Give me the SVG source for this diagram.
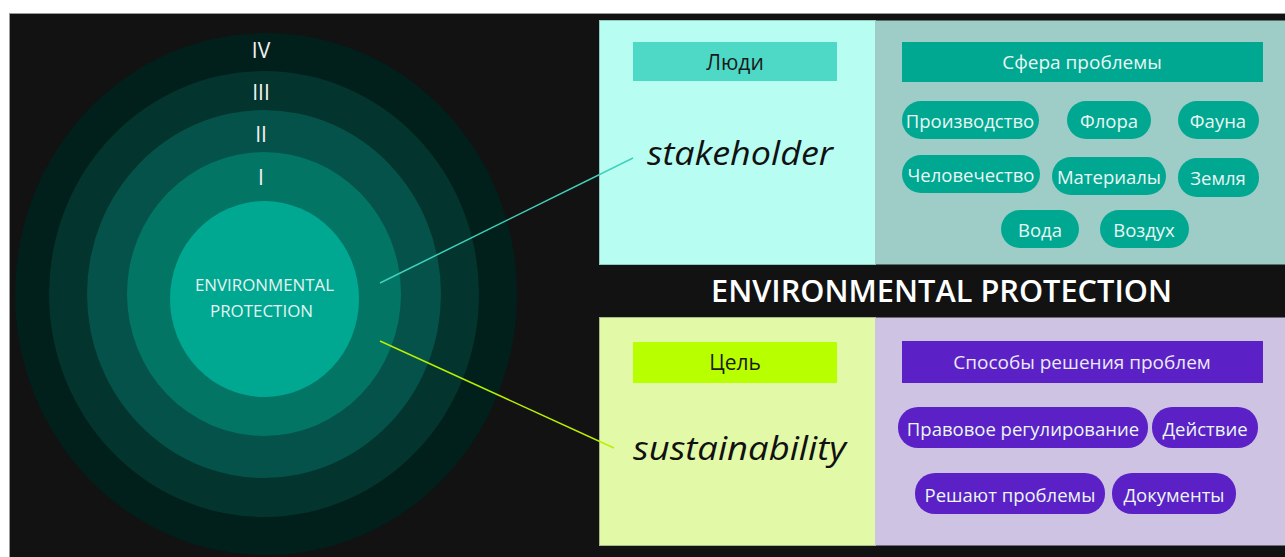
<svg xmlns="http://www.w3.org/2000/svg" width="1285" height="557" viewBox="0 0 1285 557">
<style>
.t{font-family:"Open Sans","Noto Sans","Liberation Sans",sans-serif;text-anchor:middle;dominant-baseline:central}
.roman{fill:#f2f2f2;font-size:21px}
.core{fill:#e4f4f0;font-size:16px}
.hdr{font-size:19px}
.dk{font-size:21px;fill:#1a1a1a}
.pill{fill:#eaf7f4;font-size:18.5px}
.big{font-size:33px;font-style:italic;fill:#111}
.pT{fill:#00a892}
.pB{fill:#5b21c6}
</style>
<rect x="0" y="0" width="1285" height="557" fill="#ffffff"/>
<rect x="9" y="13" width="1276" height="544" fill="#121212"/>
<line x1="9" y1="13.5" x2="1285" y2="13.5" stroke="#9a9a9a" stroke-width="1"/>
<line x1="9.5" y1="13" x2="9.5" y2="557" stroke="#9a9a9a" stroke-width="1"/>

<g id="rings">
<ellipse id="ring4" cx="266" cy="294" rx="251" ry="261" fill="#01201b"/>
<ellipse id="ring3" cx="264" cy="294" rx="215" ry="223" fill="#03342d"/>
<ellipse id="ring2" cx="264" cy="294" rx="177" ry="184" fill="#04524a"/>
<ellipse id="ring1" cx="264" cy="294" rx="137" ry="142" fill="#037565"/>
<text class="t roman" x="261" y="50">IV</text>
<text class="t roman" x="261" y="92">III</text>
<text class="t roman" x="261" y="134">II</text>
<text class="t roman" x="261" y="177">I</text>
</g>
<g id="core">
<ellipse cx="264.5" cy="299" rx="94.5" ry="98" fill="#00a892"/>
<text class="t core" x="264.5" y="285" textLength="139" lengthAdjust="spacingAndGlyphs">ENVIRONMENTAL</text>
<text class="t core" x="261.5" y="311" textLength="103" lengthAdjust="spacingAndGlyphs">PROTECTION</text>
</g>

<g id="panel-people">
<rect x="599.5" y="20.5" width="276" height="244" fill="#b8fdf2" stroke="#8fc9bf" stroke-width="1"/>
<rect x="633" y="42" width="204" height="39" fill="#4dd9c6"/>
<text class="t dk" x="735" y="62">Люди</text>
<text class="t big" x="740" y="152" textLength="186" lengthAdjust="spacingAndGlyphs">stakeholder</text>
</g>

<g id="panel-sphere">
<rect x="875" y="20.5" width="410" height="244" fill="#9dcdc6"/>
<rect x="902" y="42" width="361" height="40" fill="#00a892"/>
<text class="t hdr" x="1082" y="62" fill="#eaf7f4">Сфера проблемы</text>
<g id="p1"><rect class="pT" x="902" y="101" width="137" height="38" rx="19"/><text class="t pill" x="970" y="120">Производство</text></g>
<g id="p2"><rect class="pT" x="1067" y="101" width="84" height="38" rx="19"/><text class="t pill" x="1109" y="120">Флора</text></g>
<g id="p3"><rect class="pT" x="1178" y="101" width="81" height="38" rx="19"/><text class="t pill" x="1218" y="120">Фауна</text></g>
<g id="p4"><rect class="pT" x="902" y="155" width="138" height="38" rx="19"/><text class="t pill" x="971" y="174">Человечество</text></g>
<g id="p5"><rect class="pT" x="1052" y="157" width="114" height="38" rx="19"/><text class="t pill" x="1109" y="176">Материалы</text></g>
<g id="p6"><rect class="pT" x="1178" y="158" width="81" height="39" rx="19"/><text class="t pill" x="1218" y="177">Земля</text></g>
<g id="p7"><rect class="pT" x="1001" y="210" width="78" height="38" rx="19"/><text class="t pill" x="1040" y="229">Вода</text></g>
<g id="p8"><rect class="pT" x="1100" y="210" width="89" height="38" rx="19"/><text class="t pill" x="1144" y="229">Воздух</text></g>
</g>

<g id="title">
<text class="t" x="941.5" y="290" font-size="30" font-weight="600" fill="#ffffff" textLength="461" lengthAdjust="spacingAndGlyphs">ENVIRONMENTAL PROTECTION</text>
</g>

<g id="panel-goal">
<rect x="599.5" y="317.5" width="276" height="228" fill="#e2f9a8" stroke="#a8b98a" stroke-width="1"/>
<rect x="633" y="342" width="204" height="41" fill="#b8ff00"/>
<text class="t dk" x="735" y="362">Цель</text>
<text class="t big" x="739.5" y="447" textLength="213" lengthAdjust="spacingAndGlyphs">sustainability</text>
</g>

<g id="panel-methods">
<rect x="875" y="317.5" width="410" height="228" fill="#cec3e3"/>
<rect x="902" y="341" width="361" height="42" fill="#5b21c6"/>
<text class="t hdr" x="1082" y="362" fill="#eaeaf7">Способы решения проблем</text>
<g id="m1"><rect class="pB" x="898" y="407" width="250" height="41" rx="20"/><text class="t pill" x="1023" y="428">Правовое регулирование</text></g>
<g id="m2"><rect class="pB" x="1152" y="407" width="106" height="41" rx="20"/><text class="t pill" x="1205" y="428">Действие</text></g>
<g id="m3"><rect class="pB" x="915" y="473" width="190" height="41" rx="20"/><text class="t pill" x="1010" y="494">Решают проблемы</text></g>
<g id="m4"><rect class="pB" x="1112" y="473" width="124" height="41" rx="20"/><text class="t pill" x="1174" y="494">Документы</text></g>
</g>

<g id="connectors">
<line x1="380" y1="283" x2="633" y2="158" stroke="#40d0bb" stroke-width="1.5"/>
<line x1="380" y1="341" x2="614" y2="448" stroke="#b8f000" stroke-width="1.5"/>
</g>
</svg>
